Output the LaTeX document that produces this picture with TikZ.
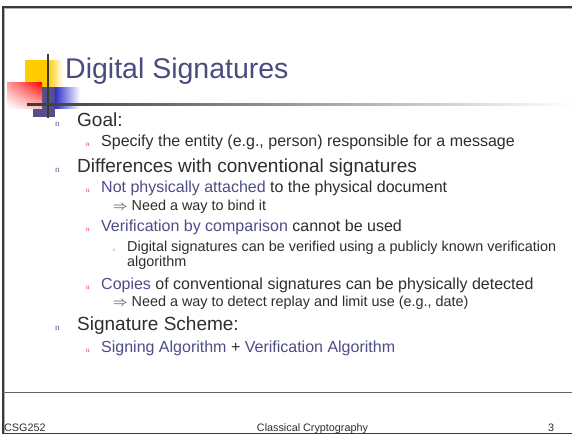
\documentclass[tikz,border=0pt]{standalone}
\usepackage{fontspec}
\usetikzlibrary{shadings}
\setmainfont{Liberation Sans}
\newfontfamily\bulletfont{Liberation Serif}
\definecolor{maincol}{HTML}{2E2E2E}
\definecolor{accent}{HTML}{4D4D88}
\definecolor{titlecol}{HTML}{4B4B7E}
\definecolor{framecol}{HTML}{3A3A3A}
\definecolor{bulone}{HTML}{5A5A9E}
\definecolor{bultwo}{HTML}{E03A3A}
\definecolor{bulthree}{HTML}{8C8CC4}
\definecolor{slate}{HTML}{53508A}
\definecolor{sunny}{HTML}{FFCC00}
\definecolor{brightblue}{HTML}{2E2ECC}
\begin{document}
\begin{tikzpicture}[x=1pt,y=-1pt,
  txt/.style={anchor=base west, inner sep=0, text=maincol},
  titletxt/.style={txt, text=titlecol, font=\fontsize{28.5}{32}\selectfont},
  lvone/.style={txt, font=\fontsize{19}{22}\selectfont},
  lvtwo/.style={txt, font=\fontsize{16}{19}\selectfont},
  lvthree/.style={txt, font=\fontsize{14.4}{17}\selectfont},
  footer/.style={txt, font=\fontsize{10.8}{12}\selectfont},
  bone/.style={anchor=base west, inner sep=0, text=bulone, font=\bulletfont\fontsize{9}{9}\selectfont},
  btwo/.style={anchor=base west, inner sep=0, text=bultwo, font=\bulletfont\fontsize{7}{7}\selectfont},
  bthree/.style={anchor=base west, inner sep=0, text=bulthree, font=\bulletfont\fontsize{5}{5}\selectfont}]
\useasboundingbox (0,0) rectangle (572,434);
\fill[white] (0,0) rectangle (572,434);

% slide frame
\draw[framecol, line width=2pt] (572,6.5) -- (2.5,6.5) -- (2.5,434);
\draw[gray!60, line width=0.8pt] (572,8) -- (4,8) -- (4,434);
\draw[framecol, line width=1.5pt] (2,433.3) -- (572,433.3);
\draw[gray!80!black, line width=1pt] (3,392) -- (572,392);

% title ornament: coloured squares and cross lines
\fill[sunny] (25,60) rectangle (48,88);
\shade[left color=sunny, right color=white] (47.9,60) rectangle (63,88);
\fill[slate] (33,87) rectangle (55,117);
\shade[left color=brightblue, right color=white] (54.9,87) rectangle (80,108);
\shade[upper left=red!40!white, upper right=red, lower left=white, lower right=red!25!white] (7,82) rectangle (42,108);
\draw[framecol, line width=1.4pt] (48,54) -- (48,118);
\shade[left color=framecol, right color=white] (27,103.3) rectangle (572,105);

\node[titletxt] (title) at (65,78) {Digital Signatures};

% bullet list
\node[bone] (b1) at (55,126) {n};
\node[lvone] (goal) at (77,126) {Goal:};
\node[btwo] (b2) at (86,146) {n};
\node[lvtwo] (spec) at (101,146) {Specify the entity (e.g., person) responsible for a message};

\node[bone] (b3) at (55,172) {n};
\node[lvone] (diff) at (77,172) {Differences with conventional signatures};
\node[btwo] (b4) at (86,192) {n};
\node[lvtwo] (notph) at (101,192) {\textcolor{accent}{Not physically attached} to the physical document};
\node[lvthree] (bind) at (113,210.5) {$\Rightarrow$ Need a way to bind it};
\node[btwo] (b5) at (86,231) {n};
\node[lvtwo] (verif) at (101,231) {\textcolor{accent}{Verification by comparison} cannot be used};
\node[bthree] (b6) at (113,251) {n};
\node[lvthree] (dsig) at (127,251) {Digital signatures can be verified using a publicly known verification};
\node[lvthree] (algo) at (127,266) {algorithm};
\node[btwo] (b7) at (86,289) {n};
\node[lvtwo] (copies) at (101,289) {\textcolor{accent}{Copies} of conventional signatures can be physically detected};
\node[lvthree] (replay) at (113,306.5) {$\Rightarrow$ Need a way to detect replay and limit use (e.g., date)};

\node[bone] (b8) at (55,330) {n};
\node[lvone] (scheme) at (77,330) {Signature Scheme:};
\node[btwo] (b9) at (86,352) {n};
\node[lvtwo] (signing) at (101,352) {\textcolor{accent}{Signing Algorithm} + \textcolor{accent}{Verification Algorithm}};

% footer
\node[footer] (course) at (4,431) {CSG252};
\node[footer, anchor=base] (topic) at (312.5,431) {Classical Cryptography};
\node[footer] (page) at (548,431) {3};
\end{tikzpicture}
\end{document}
